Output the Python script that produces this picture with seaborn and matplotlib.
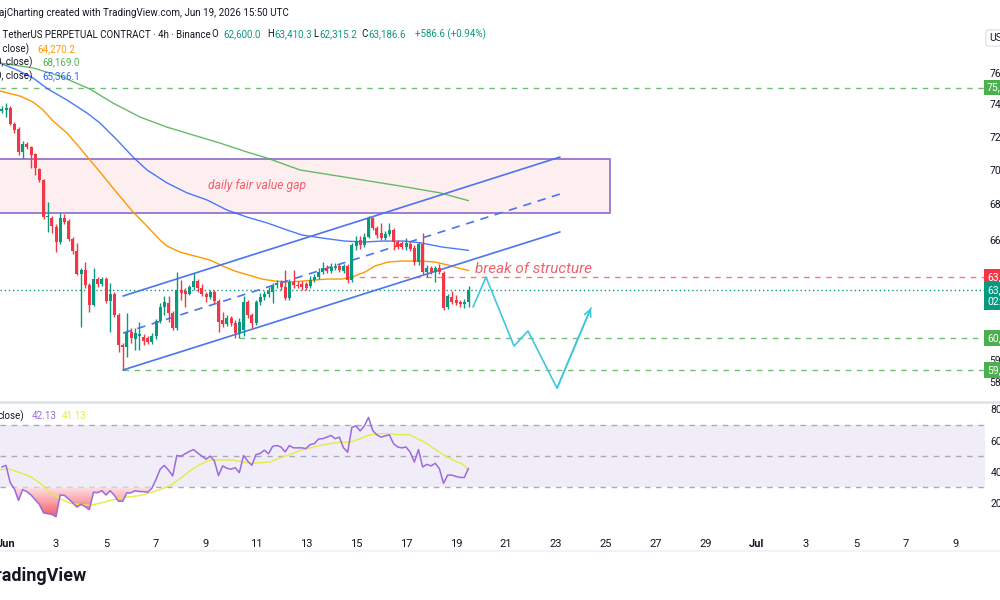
import numpy as np
import pandas as pd
import matplotlib
matplotlib.use("Agg")
import matplotlib.pyplot as plt
import matplotlib.dates as mdates
import matplotlib.ticker as mticker
from matplotlib.colors import LinearSegmentedColormap
from matplotlib.lines import Line2D
from matplotlib.path import Path
from matplotlib.transforms import blended_transform_factory
import seaborn as sns

# ---- values: BTC perpetual, 4h bars ----
first_bar = "2026-05-31 20:00"

opens = [
    73540, 73600, 73720, 72730, 72430, 71030, 71510, 71330, 70910, 70020,
    69370, 67230, 67180, 66670, 65830, 67180, 67010, 65990, 65330, 64070,
    64290, 63480, 62410, 63800, 63530, 63800, 62620, 62990, 61890, 60340,
    60240, 61010, 60650, 60800, 60750, 60700, 60490, 60800, 61580, 62310,
    62520, 61990, 61210, 63210, 63160, 62990, 63370, 63690, 63320, 62990,
    62830, 63100, 62620, 61630, 61420, 61730, 61470, 60950, 61110, 62570,
    61890, 61470, 62570, 62830, 62990, 63100, 63480, 63590, 63370, 62780,
    63640, 63480, 63530, 63530, 63420, 63750, 63910, 64180, 64400, 64230,
    64400, 64510, 64230, 64510, 63750, 65600, 65940, 65660, 66100, 67180,
    66610, 66330, 66050, 66270, 66500, 65830, 65770, 65550, 65720, 65490,
    64720, 65720, 64180, 64400, 64180, 64400, 64130, 62310, 62830, 62680,
    62570, 62470, 62600.0]
highs = [
    73850, 74030, 73850, 72850, 72550, 71690, 71630, 71390, 70970, 70080,
    69430, 68090, 67290, 66840, 67460, 67400, 67120, 66100, 65770, 64400,
    64720, 63590, 64400, 63910, 63910, 63910, 63590, 63100, 61990, 60440,
    61990, 61210, 61210, 61520, 60900, 60800, 60950, 61680, 62520, 62890,
    62890, 62100, 64180, 63750, 63320, 63480, 64120, 63800, 63530, 63100,
    63210, 63210, 62730, 62050, 61890, 61840, 61630, 61730, 62890, 62680,
    61990, 62680, 63050, 63160, 63370, 63590, 63750, 63750, 64290, 63800,
    64290, 63690, 63690, 63640, 63960, 64070, 64400, 64720, 64560, 64670,
    64670, 64610, 64610, 64610, 65770, 66160, 66160, 66330, 67290, 67230,
    66720, 66900, 66440, 66900, 66610, 65940, 65880, 66050, 65830, 65660,
    65830, 66330, 64560, 64510, 64510, 64610, 64230, 62990, 63160, 62940,
    62680, 62730, 63410.3]
lows = [
    73410, 73160, 72670, 72180, 70850, 70670, 71210, 70080, 69660, 69250,
    67120, 66390, 66330, 65270, 65720, 66840, 65880, 65160, 64020, 61260,
    63320, 62050, 62360, 63370, 63420, 62520, 61010, 61780, 59980, 59080,
    59730, 60440, 60080, 60080, 60340, 60390, 60390, 60650, 61470, 61890,
    61520, 61110, 61110, 62680, 62310, 62940, 63210, 63100, 62890, 62570,
    62730, 62520, 61010, 61260, 61320, 61320, 60700, 60700, 60800, 61730,
    61210, 61370, 62410, 62680, 62830, 62520, 63320, 63210, 62680, 62680,
    63320, 63320, 63210, 63210, 63320, 63640, 63800, 64070, 64120, 64120,
    64290, 64180, 64120, 63590, 63640, 65380, 65440, 65550, 66050, 66500,
    66050, 65940, 65940, 66160, 65380, 65440, 65440, 65380, 65330, 64560,
    64560, 64070, 63910, 64070, 63640, 64070, 62150, 62200, 62470, 62410,
    62310, 62260, 62315.2]
closes = [
    73660, 73720, 72730, 72360, 71030, 71510, 71330, 70850, 70080, 69370,
    67230, 67290, 66720, 65830, 67180, 66950, 65990, 65330, 64070, 64290,
    63480, 62410, 63800, 63530, 63800, 62620, 62990, 61890, 60340, 60240,
    61010, 60700, 60960, 60900, 60540, 60490, 60800, 61580, 62310, 62570,
    61990, 61210, 63210, 63050, 62990, 63370, 63690, 63320, 62990, 62830,
    63100, 62620, 61520, 61420, 61730, 61470, 60950, 61520, 62570, 61890,
    61470, 62570, 62830, 62990, 63160, 63480, 63590, 63370, 62780, 63640,
    63480, 63420, 63370, 63320, 63750, 63910, 64180, 64400, 64230, 64450,
    64510, 64290, 64510, 63750, 65660, 65880, 65660, 66100, 67180, 66610,
    66220, 66050, 66270, 66500, 65830, 65550, 65550, 65770, 65440, 64720,
    65720, 64180, 64400, 64180, 64400, 64180, 62260, 62890, 62570, 62520,
    62470, 62570, 63186.6]

rsi_values = [
    43, 44.1, 33, 29, 21.5, 28.5, 27.2, 25, 22, 19,
    13.5, 13, 12.5, 11, 25, 24.8, 22.5, 20, 17.3, 19,
    17.5, 15.6, 26.8, 26.5, 27.8, 25, 27.8, 24.8, 21, 21,
    26.4, 26.4, 27.8, 27.2, 27.2, 26.8, 29.3, 35, 41.6, 44,
    41, 37.3, 50.4, 50, 51.5, 53, 54.2, 52, 50, 48,
    50, 47, 37.5, 43.7, 42.2, 41.6, 42.6, 39.4, 50.4, 46.8,
    44.1, 51, 51.7, 53.8, 51.5, 56.3, 56.8, 55.9, 52.7, 56.8,
    55.3, 55.3, 55.3, 54.9, 57.4, 58, 61, 61.2, 62.2, 63.3,
    61.2, 62.2, 55.3, 52.5, 68.5, 69.4, 66.2, 69.4, 74.9, 66.5,
    63.7, 62.2, 63, 63.7, 58, 55.9, 55.3, 55.9, 52.5, 46.2,
    54.2, 43, 44.7, 43.7, 45.4, 42, 32.5, 37.8, 37.8, 36.9,
    36.3, 36.3, 42.13]

# RSI-based MA, read at bar positions
rsi_ma_bar = [-0.44, 1.24, 4.36, 6.76, 9.16, 11.56, 13.96, 16.36, 18.76, 21.16,
              23.56, 25.96, 28.36, 30.76, 33.16, 35.56, 37.96, 40.36, 42.76, 45.16,
              47.56, 49.96, 52.36, 55.48, 57.88, 59.56, 61.96, 64.36, 66.76, 69.16,
              71.56, 73.96, 76.36, 78.76, 81.16, 83.56, 85.96, 88.36, 90.76, 93.16,
              95.56, 97.96, 99.64, 101.08, 103.48, 105.88, 108.28, 110.68, 112]
rsi_ma_values = [41.1, 42, 39.4, 36.9, 32.7, 26.4, 22.6, 19.8, 18.8, 18.4,
                 19.8, 21.5, 23, 23.9, 24.7, 26.4, 28.5, 31, 35.6, 40.5,
                 44.7, 47.5, 47.5, 47.5, 46.2, 45.4, 45.8, 46.2, 48.9, 51,
                 53.6, 55.3, 56.8, 58, 58.9, 58.9, 61.2, 63.7, 64.4, 64.4,
                 63.7, 63.7, 61.2, 59.5, 55.3, 51, 47.5, 44.7, 41.13]

# moving averages, read at bar positions
ema_fast_bar = [-0.44, 4.36, 7.48, 9.88, 12.28, 15.64, 18.76, 21.16, 23.56, 26.68,
                29.08, 31.48, 34.84, 37.96, 39.64, 42.76, 46.36, 49.96, 53.56, 55.96,
                59.08, 62.44, 65.56, 68.68, 72.04, 75.16, 78.28, 81.64, 84.04, 87.16,
                89.56, 92.68, 96.04, 100.84, 103.96, 107.08, 109.48, 112]
ema_fast_values = [74790, 74470, 74100, 73600, 72920, 72180, 71270, 70550, 69840, 68900,
                   68210, 67520, 66720, 65940, 65600, 65270, 65050, 64830, 64450, 64230,
                   64020, 63800, 63690, 63640, 63690, 63750, 63800, 63800, 63910, 64180,
                   64510, 64720, 64780, 64780, 64720, 64560, 64400, 64270.2]
ema_mid_bar = [-0.44, 3.64, 7.48, 11.08, 15.64, 20.44, 23.56, 27.64, 31.48, 34.84,
               39.64, 44.44, 49.24, 54.04, 58.84, 63.64, 68.44, 72.04, 76.84, 82.36,
               87.16, 91.24, 96.76, 100.84, 105.64, 112]
ema_mid_values = [76580, 76130, 75620, 74910, 74220, 73410, 72790, 71760, 70730, 69960,
                  69200, 68620, 68210, 67630, 67230, 66900, 66500, 66220, 66050, 65880,
                  65830, 65880, 65880, 65770, 65550, 65366.1]
ema_slow_bar = [-0.44, 7.48, 13.96, 21.16, 26.68, 33.16, 39.64, 45.88, 52.36, 58.84,
                63.64, 71.56, 83.56, 95.56, 105.16, 112]
ema_slow_values = [76580, 76260, 75740, 74910, 74030, 73160, 72540, 72060, 71570, 71030,
                   70670, 69960, 69490, 69020, 68620, 68169.0]

# drawings on the chart
fvg_start, fvg_end = "2026-05-20 00:00", "2026-06-25 03:50"
fvg_top, fvg_bottom = 70610, 67460
channel_start, channel_end = "2026-06-05 16:20", "2026-06-23 03:50"
channel_upper = [62890, 70730]
channel_mid = [60950, 68550]
channel_lower = [59080, 66390]
level_top = 75000
bos_level, bos_start = 63910, "2026-06-14 16:00"
support_hi, support_hi_start = 60700, "2026-06-10 08:00"
support_lo, support_lo_start = 59080, "2026-06-05 16:00"
path_times = ["2026-06-19 16:20", "2026-06-20 04:48", "2026-06-21 07:41",
              "2026-06-21 21:07", "2026-06-23 00:58", "2026-06-24 09:36"]
path_prices = [62310, 63900, 60290, 61060, 58180, 62260]

price_ticks = [76000, 74000, 72000, 70000, 68000, 66000, 59600, 58500]
price_tick_labels = ["76,000.0", "74,000.0", "72,000.0", "70,000.0", "68,000.0",
                     "66,000.0", "59,600.0", "58,500.0"]
rsi_ticks = [20, 40, 60, 80]
rsi_tick_labels = ["20.00", "40.00", "60.00", "80.00"]
day_ticks = ["2026-06-01", "2026-06-03", "2026-06-05", "2026-06-07", "2026-06-09",
             "2026-06-11", "2026-06-13", "2026-06-15", "2026-06-17", "2026-06-19",
             "2026-06-21", "2026-06-23", "2026-06-25", "2026-06-27", "2026-06-29",
             "2026-07-01", "2026-07-03", "2026-07-05", "2026-07-07", "2026-07-09"]
day_labels = ["Jun", "3", "5", "7", "9", "11", "13", "15", "17", "19",
              "21", "23", "25", "27", "29", "Jul", "3", "5", "7", "9"]

# ---- style ----
sns.set_theme(style="white")
plt.rcParams["font.family"] = ["Roboto", "DejaVu Sans"]

UP, DOWN = "#089981", "#f23645"
TEXT = "#131722"
ORANGE, GREEN, BLUE = "#ff9800", "#4caf50", "#2962ff"
PURPLE, YELLOW = "#9c6ade", "#e3ec3f"
CYAN = "#3fc8dc"


def dnum(s):
    return mdates.date2num(pd.Timestamp(s))


def px(x, y):
    return x / 1000, 1 - y / 600


x0 = dnum(first_bar)
bar_step = 4 / 24


def bar_x(idx):
    return x0 + np.asarray(idx, dtype=float) * bar_step


x_left, x_right = dnum("2026-05-31 18:14"), dnum("2026-07-10 03:50")

fig = plt.figure(figsize=(10, 6), dpi=100)
fig.patch.set_facecolor("white")
ax = fig.add_axes([0, 1 - 400 / 600, 0.985, (400 - 22) / 600])
ax_rsi = fig.add_axes([0, 1 - 528 / 600, 0.985, (528 - 404) / 600])

# ---- price panel ----
ax.set_yscale("log")
xb = bar_x(np.arange(len(closes)))
o = np.array(opens)
c = np.array(closes)
colors = [UP if cc >= oo else DOWN for oo, cc in zip(o, c)]
ax.vlines(xb, lows, highs, colors=colors, linewidth=1, zorder=4)
ax.bar(xb, np.maximum(np.abs(c - o), 30), bottom=np.minimum(o, c), width=0.12,
       color=colors, linewidth=0, zorder=5)

sns.lineplot(x=bar_x(ema_fast_bar), y=ema_fast_values, ax=ax, color=ORANGE, linewidth=1, zorder=3)
sns.lineplot(x=bar_x(ema_mid_bar), y=ema_mid_values, ax=ax, color=BLUE, linewidth=1, zorder=3, alpha=0.85)
sns.lineplot(x=bar_x(ema_slow_bar), y=ema_slow_values, ax=ax, color=GREEN, linewidth=1, zorder=3, alpha=0.85)

# fair value gap box
fx0, fx1 = dnum(fvg_start), dnum(fvg_end)
ax.fill_between([fx0, fx1], fvg_bottom, fvg_top, color=DOWN, alpha=0.08, linewidth=0, zorder=1)
ax.plot([fx0, fx1, fx1, fx0], [fvg_top, fvg_top, fvg_bottom, fvg_bottom],
        color="#9575cd", linewidth=1.3, zorder=2)
ax.text(dnum("2026-06-09 01:55"), 69020, "daily fair value gap", color="#f0606c",
        fontsize=8.7, fontstyle="italic", ha="left", va="center")

# channel
cx = [dnum(channel_start), dnum(channel_end)]
ax.plot(cx, channel_upper, color="#4b74f0", linewidth=1.2, zorder=3)
ax.plot(cx, channel_lower, color="#4b74f0", linewidth=1.2, zorder=3)
ax.plot(cx, channel_mid, color="#4b74f0", linewidth=1.2, linestyle=(0, (5, 4)), zorder=3)

# horizontal levels
dash = (0, (4, 4))
ax.hlines(level_top, x_left, x_right, colors=GREEN, linestyles=dash, linewidth=1, alpha=0.8)
ax.hlines(bos_level, dnum(bos_start), x_right, colors="#f7777f", linestyles=dash, linewidth=1)
ax.hlines(support_hi, dnum(support_hi_start), x_right, colors=GREEN, linestyles=dash, linewidth=1, alpha=0.8)
ax.hlines(support_lo, dnum(support_lo_start), x_right, colors=GREEN, linestyles=dash, linewidth=1, alpha=0.8)
ax.hlines(closes[-1], x_left, x_right, colors=UP, linestyles=(0, (1, 2)), linewidth=1)

ax.text(dnum("2026-06-19 18:14"), 64340, "break of structure", color="#f0606c",
        fontsize=11, fontstyle="italic", ha="left", va="center")

# projected path
pt = [dnum(t) for t in path_times]
ax.plot(pt, path_prices, color=CYAN, linewidth=1.2, zorder=6)
ax.annotate("", xy=(pt[-1], path_prices[-1]), xytext=(pt[-2], path_prices[-2]),
            arrowprops=dict(arrowstyle="->", color=CYAN, lw=1.2, shrinkA=0, shrinkB=0,
                            mutation_scale=12), zorder=6)

ax.set_xlim(x_left, x_right)
ax.set_ylim(57600, 79280)
ax.set_xticks([])
ax.yaxis.tick_right()
ax.yaxis.set_major_locator(mticker.FixedLocator(price_ticks))
ax.yaxis.set_major_formatter(mticker.FixedFormatter(price_tick_labels))
ax.yaxis.set_minor_locator(mticker.NullLocator())
ax.tick_params(axis="y", length=0, pad=3, labelsize=7.5, labelcolor=TEXT)
for sp in ax.spines.values():
    sp.set_visible(False)

# price labels on the scale
tr = blended_transform_factory(ax.transAxes, ax.transData)
for val, txt, col in [(level_top, "75,000.0", GREEN), (bos_level, "63,910.0", DOWN),
                      (support_hi, "60,700.0", GREEN), (support_lo, "59,080.0", GREEN)]:
    ax.text(1.002, val, txt, transform=tr, color="white", fontsize=7.5, va="center",
            ha="left", clip_on=False, zorder=10,
            bbox=dict(boxstyle="square,pad=0.25", fc=col, ec="none"))
ax.annotate("63,186.6\n02:09:27", xy=(1.002, closes[-1]), xycoords=tr,
            xytext=(0, 4), textcoords="offset points", color="white", fontsize=7.5,
            va="top", ha="left", annotation_clip=False, zorder=10, linespacing=1.2,
            bbox=dict(boxstyle="square,pad=0.3", fc=UP, ec="none"))

# ---- RSI panel ----
rx = bar_x(np.arange(len(rsi_values)))
r = np.array(rsi_values)
ax_rsi.axhspan(30, 70, color="#7e57c2", alpha=0.1, linewidth=0, zorder=0)
for lvl in (70, 50, 30):
    ax_rsi.axhline(lvl, color="#a8abb5", linestyle=dash, linewidth=1, zorder=1)

fill = ax_rsi.fill_between(rx, r, 30, where=r < 30, interpolate=True,
                           color="none", linewidth=0)
grad = np.linspace(0, 1, 128).reshape(-1, 1)
cmap = LinearSegmentedColormap.from_list("os", ["#f23645", "#fde3e6"])
im = ax_rsi.imshow(grad, extent=[x_left, x_right, 10, 30], origin="lower",
                   aspect="auto", cmap=cmap, alpha=0.85, zorder=2)
im.set_clip_path(Path.make_compound_path(*fill.get_paths()), ax_rsi.transData)

sns.lineplot(x=bar_x(rsi_ma_bar), y=rsi_ma_values, ax=ax_rsi, color=YELLOW, linewidth=1, zorder=3)
sns.lineplot(x=rx, y=rsi_values, ax=ax_rsi, color=PURPLE, linewidth=1.1, zorder=4)

ax_rsi.set_xlim(x_left, x_right)
ax_rsi.set_ylim(3.8, 83.5)
ax_rsi.set_xticks([dnum(d) for d in day_ticks])
ax_rsi.set_xticklabels(day_labels)
ax_rsi.yaxis.tick_right()
ax_rsi.set_yticks(rsi_ticks)
ax_rsi.set_yticklabels(rsi_tick_labels)
ax_rsi.tick_params(axis="y", length=0, pad=4, labelsize=7.5, labelcolor=TEXT)
ax_rsi.tick_params(axis="x", length=0, pad=8, labelsize=8, labelcolor=TEXT)
for lab in ax_rsi.get_xticklabels():
    if lab.get_text() in ("Jun", "Jul"):
        lab.set_fontweight("bold")
for sp in ax_rsi.spines.values():
    sp.set_visible(False)

# separators
fig.add_artist(Line2D([0, 1], [px(0, 402)[1]] * 2, color="#e0e3eb", linewidth=2))
fig.add_artist(Line2D([0, 1], [px(0, 551)[1]] * 2, color="#f0f3fa", linewidth=1.5))

# ---- header / legends ----
def ftext(x, y, s, color=TEXT, size=7, **kw):
    fig.text(*px(x, y), s, color=color, fontsize=size, va="center", ha="left", **kw)


ftext(-1, 13, "ajCharting created with TradingView.com, Jun 19, 2026 15:50 UTC", size=7.1)
ftext(-4, 34, "/ TetherUS PERPETUAL CONTRACT · 4h · Binance")
ftext(211, 34, "O")
ftext(223, 34, "62,600.0", UP)
ftext(267, 34, "H")
ftext(274, 34, "63,410.3", UP)
ftext(313, 34, "L")
ftext(319, 34, "62,315.2", UP)
ftext(361, 34, "C")
ftext(368, 34, "63,186.6", UP)
ftext(415, 34, "+586.6 (+0.94%)", UP)
ftext(-2, 49, ", close)")
ftext(37, 49, "64,270.2", ORANGE)
ftext(-4, 62, "0, close)")
ftext(42, 62, "68,169.0", GREEN)
ftext(-4, 76, "0, close)")
ftext(42, 76, "65,366.1", BLUE)
ftext(-2, 416, "close)")
ftext(32, 416, "42.13", PURPLE)
ftext(62, 416, "41.13", YELLOW)

fig.text(*px(989, 38), "USDT", color=TEXT, fontsize=7.5, va="center", ha="left",
         bbox=dict(boxstyle="round,pad=0.3", fc="white", ec="#e0e3eb"))
fig.text(*px(87, 576), "TradingView", color=TEXT, fontsize=13, fontweight="bold",
         va="center", ha="right")

fig.savefig("out.png", dpi=100, facecolor="white")
